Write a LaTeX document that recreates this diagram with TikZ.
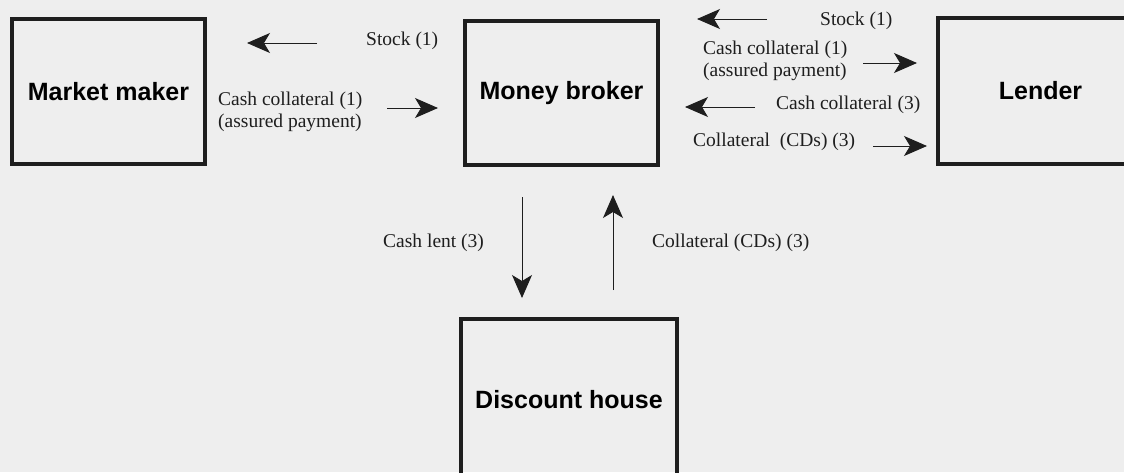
\documentclass[tikz,border=0pt]{standalone}
\usepackage{fontspec}
\setmainfont{Liberation Serif}
\newfontfamily\partyfont{Liberation Sans}
\usetikzlibrary{arrows.meta}
\definecolor{paper}{RGB}{238,238,238}
\definecolor{ink}{RGB}{30,30,30}

\tikzset{
  party/.style={draw=ink, line width=3.2pt, inner sep=0pt,
    font=\partyfont\bfseries\fontsize{25}{29}\selectfont},
  flow/.style={ink, line width=1pt, -{Stealth[length=23pt,width=20pt,inset=6pt]}},
  flowlabel/.style={ink, anchor=west, inner sep=0pt, align=left,
    font=\fontsize{19.5}{22}\selectfont}
}

\begin{document}
\begin{tikzpicture}[x=1pt, y=-1pt]
\fill[paper] (0,0) rectangle (1124,472);
\useasboundingbox (0,0) rectangle (1124,472);

% the four parties
\node[party, minimum width=193pt, minimum height=145pt] (maker) at (108.5,91.5){Market maker};
\node[party, minimum width=193pt, minimum height=144pt] (broker) at (561.5,93){Money broker};
\node[party, minimum width=205pt, minimum height=146pt] (lender) at (1040.5,91){Lender};
\node[party, minimum width=216pt, minimum height=162pt] (discount) at (569,400){Discount house};

% market maker <-> money broker
\node[flowlabel] (stockA) at (366,41){Stock (1)};
\node[flowlabel] (cashA) at (218,112){Cash collateral (1)\\(assured payment)};
\coordinate (stockA1) at (317,43);
\coordinate (stockA2) at (247,43);
\coordinate (cashA1) at (387,108);
\coordinate (cashA2) at (438,108);
\draw[flow] (stockA1) -- (stockA2);
\draw[flow] (cashA1) -- (cashA2);

% money broker <-> lender
\node[flowlabel] (stockB) at (820,21){Stock (1)};
\node[flowlabel] (cashB) at (703,60.5){Cash collateral (1)\\(assured payment)};
\node[flowlabel] (cashC) at (776,105){Cash collateral (3)};
\node[flowlabel] (cdsB) at (693,142){Collateral\ \ (CDs) (3)};
\coordinate (stockB1) at (767,19);
\coordinate (stockB2) at (697,19);
\coordinate (cashB1) at (863,63);
\coordinate (cashB2) at (917,63);
\coordinate (cashC1) at (755,107);
\coordinate (cashC2) at (685,107);
\coordinate (cdsB1) at (873,146);
\coordinate (cdsB2) at (927,146);
\draw[flow] (stockB1) -- (stockB2);
\draw[flow] (cashB1) -- (cashB2);
\draw[flow] (cashC1) -- (cashC2);
\draw[flow] (cdsB1) -- (cdsB2);

% money broker <-> discount house
\node[flowlabel] (lent) at (383,243){Cash lent (3)};
\node[flowlabel] (cdsD) at (652,243){Collateral (CDs) (3)};
\coordinate (lent1) at (522,197);
\coordinate (lent2) at (522,298);
\coordinate (cdsD1) at (613,290);
\coordinate (cdsD2) at (613,195);
\draw[flow] (lent1) -- (lent2);
\draw[flow] (cdsD1) -- (cdsD2);
\end{tikzpicture}
\end{document}
